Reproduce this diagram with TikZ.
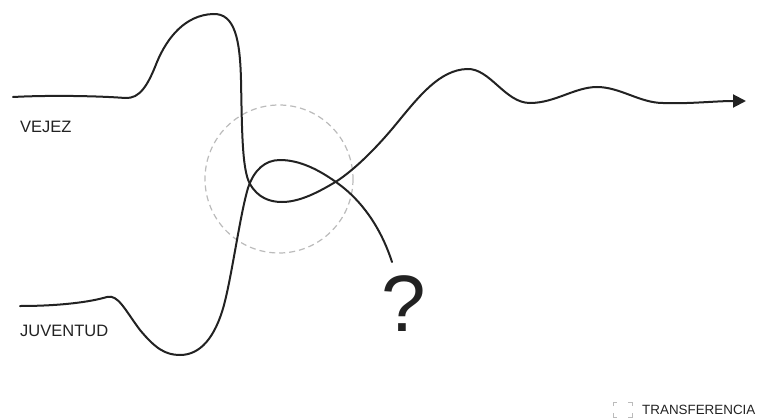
\documentclass[tikz,border=0pt]{standalone}
\usepackage{fontspec}
\setmainfont{Liberation Sans}
\usepackage{xcolor}
\definecolor{trink}{HTML}{222222}
\definecolor{trring}{HTML}{BBBBBB}
\usepackage{tikz}
\usetikzlibrary{arrows.meta,positioning}
\tikzset{
  trcurve/.style={draw=trink,line width=2pt,line cap=round},
  trring/.style={draw=trring,line width=1.2pt,dash pattern=on 6pt off 4pt},
  trlabel/.style={text=trink,inner sep=0pt,font=\fontsize{16.5}{18}\selectfont},
  trlegend/.style={text=trink,inner sep=0pt,font=\fontsize{13.4}{15}\selectfont},
}
\begin{document}
\begin{tikzpicture}[x=1pt,y=-1pt]
\useasboundingbox (0,0) rectangle (760,420);
 % start and end points
\coordinate (vstart) at (13,97);
\coordinate (jstart) at (20,306);
\coordinate (vend) at (746,101);
\coordinate (jend) at (392,262);
 % transfer zone
\draw[trring] (279,179) circle[radius=74];
 % old age line
\draw[trcurve,-{Triangle[length=13pt,width=13pt]}] (vstart)
  .. controls (50,95) and (100,96) .. (125,98)
  .. controls (140,99) and (148,85) .. (157,62)
  .. controls (167,38) and (185,15) .. (213,14)
  .. controls (235,13) and (240,40) .. (241,80)
  .. controls (242,130) and (242,170) .. (250,184)
  .. controls (258,198) and (270,202) .. (282,202)
  .. controls (298,202) and (315,194) .. (332,184)
  .. controls (350,174) and (375,150) .. (397,123)
  .. controls (420,95) and (440,70) .. (467,69)
  .. controls (490,68) and (505,103) .. (530,103)
  .. controls (555,103) and (575,87) .. (597,87)
  .. controls (620,87) and (640,103) .. (663,103)
  .. controls (690,104) and (715,101) .. (vend);
 % youth line
\draw[trcurve] (jstart)
  .. controls (60,306) and (90,302) .. (107,297)
  .. controls (118,294) and (125,310) .. (140,330)
  .. controls (155,348) and (165,355) .. (180,355)
  .. controls (200,355) and (215,338) .. (224,305)
  .. controls (232,275) and (240,215) .. (248,188)
  .. controls (254,170) and (265,160) .. (280,160)
  .. controls (300,160) and (320,170) .. (340,185)
  .. controls (360,200) and (380,225) .. (jend);
 % labels
\node[trlabel,anchor=west] (vejez) at (20,127) {VEJEZ};
\node[trlabel,anchor=west] (juventud) at (20,331) {JUVENTUD};
\node[trlabel,font=\fontsize{80}{90}\selectfont] (unknown) at (404,304) {?};
 % legend
\node[trlegend,anchor=west] (transfer) at (642,410) {TRANSFERENCIA};
\coordinate (iconnw) at (613,402);
\coordinate (iconse) at (632,417);
\draw[trring,line width=1pt,solid] (613,406) -- (iconnw) -- (617,402);
\draw[trring,line width=1pt,solid] (628,402) -- (632,402) -- (632,406);
\draw[trring,line width=1pt,solid] (613,413) -- (613,417) -- (617,417);
\draw[trring,line width=1pt,solid] (628,417) -- (iconse) -- (632,413);
\end{tikzpicture}
\end{document}
